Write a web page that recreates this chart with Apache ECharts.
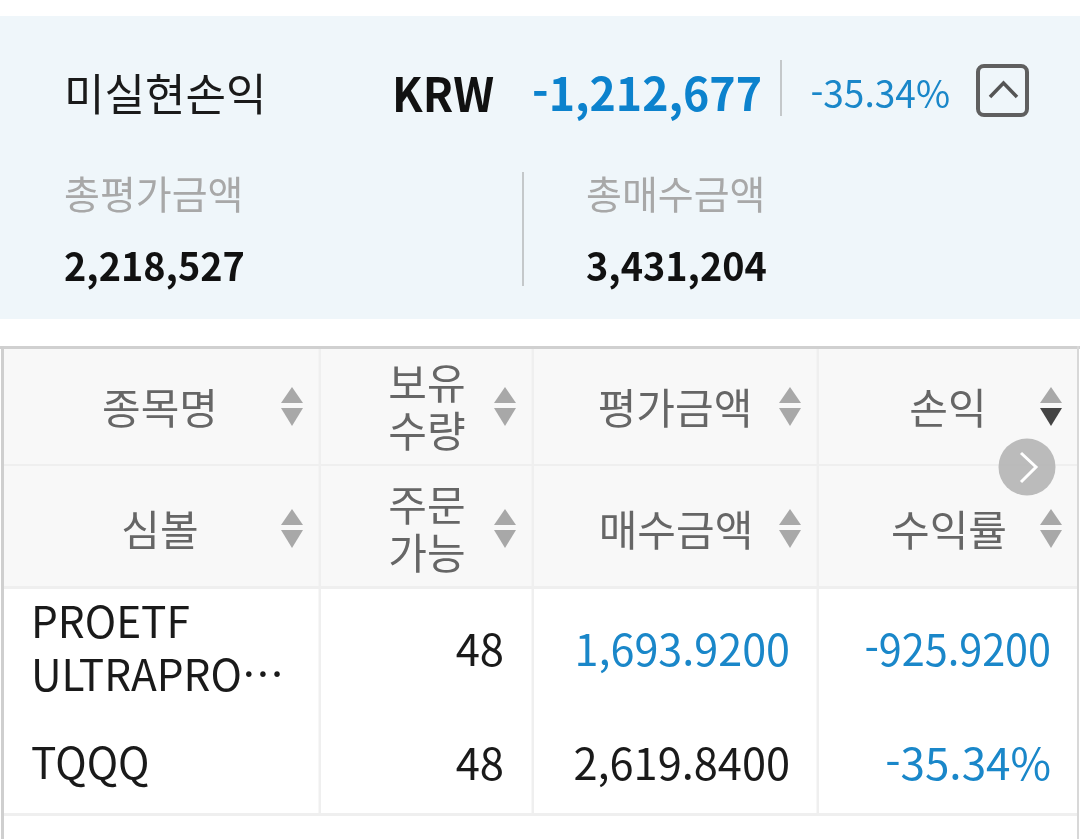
<!DOCTYPE html>
<html lang="ko">
<head>
<meta charset="utf-8">
<title>미실현손익</title>
<style>
  html, body { margin: 0; padding: 0; background: #fff; }
  #chart { width: 1080px; height: 839px; }
</style>
</head>
<body>
<div id="chart"></div>
<script src="https://cdn.jsdelivr.net/npm/echarts@6/dist/echarts.min.js"></script>
<script>
const summaryLabel = '미실현손익';
const currency = 'KRW';
const profitLoss = '-1,212,677';
const profitRate = '-35.34%';
const totalLabels = ['총평가금액', '총매수금액'];
const totalValues = ['2,218,527', '3,431,204'];

const headerTop = [['종목명'], ['보유', '수량'], ['평가금액'], ['손익']];
const headerBottom = [['심볼'], ['주문', '가능'], ['매수금액'], ['수익률']];
const rowTop = [['PROETF', 'ULTRAPRO…'], '48', '1,693.9200', '-925.9200'];
const rowBottom = [['TQQQ'], '48', '2,619.8400', '-35.34%'];
const rowTopColors = ['#1a1a1a', '#1a1a1a', '#1a87c9', '#1a87c9'];
const rowBottomColors = ['#1a1a1a', '#1a1a1a', '#1a1a1a', '#1a87c9'];

const FONT = '"Noto Sans CJK KR", "Noto Sans", sans-serif';
const colLines = [319.5, 532.5, 817.5];
const headerCenterX = [160, 427, 675, 948, 160, 427, 676, 949];
const sortX = [292, 505, 790, 1051];
const valueRight = [0, 504, 790, 1051];
const rowTopScale = [1, 0.99, 0.98, 0.94];
const rowBottomScale = [1, 0.99, 0.985, 1];

const els = [];

function text(x, y, str, size, color, opts = {}) {
  els.push({
    type: 'text', x, y, scaleX: opts.scaleX || 1, silent: true, z: opts.z || 5,
    style: {
      text: str, fill: color, align: opts.align || 'left', verticalAlign: 'middle',
      font: `${opts.weight || 400} ${size}px ${FONT}`
    }
  });
}

function rect(x, y, width, height, fill, z = 1, r = 0) {
  els.push({ type: 'rect', silent: true, z, shape: { x, y, width, height, r }, style: { fill } });
}

function poly(points, fill, z = 4) {
  els.push({ type: 'polygon', silent: true, z, shape: { points }, style: { fill } });
}

function chevron(points, stroke, lineWidth, z = 6) {
  els.push({ type: 'polyline', silent: true, z, shape: { points }, style: { stroke, lineWidth, fill: 'none' } });
}

function sortIcon(cx, cy, downColor = '#a8a8a8') {
  poly([[cx - 11, cy - 4], [cx + 11, cy - 4], [cx, cy - 20]], '#a8a8a8');
  poly([[cx - 11, cy + 1], [cx + 11, cy + 1], [cx, cy + 19]], downColor);
}

// top summary panel
rect(0, 16, 1080, 303, '#eff6fa');
text(64, 94, summaryLabel, 44, '#1a1a1a');
text(392, 94, currency, 47, '#111', { weight: 700, scaleX: 0.95 });
text(762, 94, profitLoss, 46, '#0c82cd', { weight: 700, align: 'right', scaleX: 0.97 });
rect(780, 60, 2, 56, '#c4c8ca', 2);
text(950, 94, profitRate, 38, '#1a87c9', { align: 'right', scaleX: 0.975 });
els.push({
  type: 'rect', silent: true, z: 3,
  shape: { x: 978, y: 66, width: 49, height: 49, r: 6 },
  style: { fill: 'none', stroke: '#5f5f5f', lineWidth: 4 }
});
chevron([[990, 97], [1003.5, 83], [1017, 97]], '#555', 3.5);

text(64, 194, totalLabels[0], 39, '#a8a8a8');
text(586, 194, totalLabels[1], 39, '#a8a8a8');
text(64, 266, totalValues[0], 39, '#111', { weight: 700, scaleX: 0.97 });
text(586, 266, totalValues[1], 39, '#111', { weight: 700, scaleX: 0.97 });
rect(522, 172, 2, 114, '#c4c8ca', 2);

// table frame
rect(2, 349, 1075, 238, '#f8f8f8');
rect(0, 346, 1080, 3, '#d0d0d0', 3);
rect(1, 346, 3, 493, '#cfcfcf', 3);
rect(1077, 346, 2, 493, '#d8d8d8', 3);
rect(4, 464, 1073, 2, '#efefef', 2);
rect(4, 586, 1073, 3, '#efefef', 2);
rect(4, 813, 1073, 3, '#efefef', 2);
colLines.forEach(x => rect(x - 1, 349, 2.5, 466, '#efefef', 2));

// header cells
[headerTop, headerBottom].forEach((row, r) => {
  const cy = r === 0 ? 407 : 529;
  row.forEach((lines, c) => {
    const cx = headerCenterX[c + r * 4];
    if (lines.length === 2) {
      text(cx, cy - 24, lines[0], 42, '#666', { align: 'center' });
      text(cx, cy + 24, lines[1], 42, '#666', { align: 'center' });
    } else {
      text(cx, cy + 1, lines[0], 42, '#666', { align: 'center' });
    }
    sortIcon(sortX[c], cy, r === 0 && c === 3 ? '#444' : '#a8a8a8');
  });
});

// scroll hint button
els.push({
  type: 'circle', silent: true, z: 7,
  shape: { cx: 1027, cy: 467, r: 28.5 },
  style: { fill: 'rgba(176,176,176,0.85)' }
});
chevron([[1021, 453], [1036, 467], [1021, 482]], '#fff', 3, 8);

// body cells
rowTop[0].forEach((line, i) => text(31, i === 0 ? 622 : 675, line, 43, rowTopColors[0], { scaleX: 0.985 }));
text(31, 763, rowBottom[0][0], 43, rowBottomColors[0], { scaleX: 0.985 });
for (let c = 1; c < 4; c++) {
  text(valueRight[c], 649, rowTop[c], 44, rowTopColors[c], { align: 'right', scaleX: rowTopScale[c] });
  text(valueRight[c], 763, rowBottom[c], 44, rowBottomColors[c], { align: 'right', scaleX: rowBottomScale[c] });
}

const chart = echarts.init(document.getElementById('chart'), null, { renderer: 'canvas' });
chart.setOption({
  backgroundColor: '#fff',
  animation: false,
  graphic: { elements: els }
});
</script>
</body>
</html>
